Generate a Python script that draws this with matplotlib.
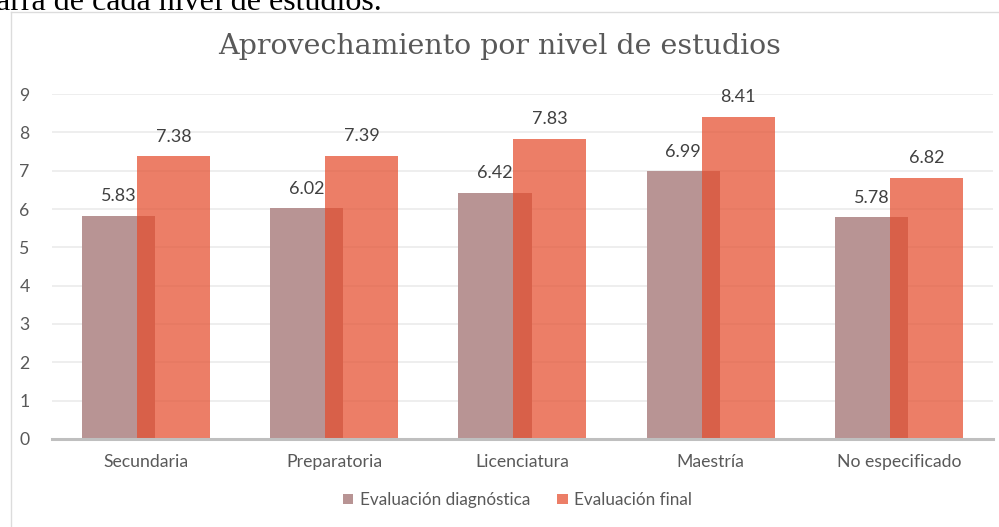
import matplotlib
matplotlib.use("Agg")
import matplotlib.pyplot as plt
from matplotlib.lines import Line2D
import numpy as np

niveles = ["Secundaria", "Preparatoria", "Licenciatura", "Maestría", "No especificado"]
diagnostica = [5.83, 6.02, 6.42, 6.99, 5.78]
final = [7.38, 7.39, 7.83, 8.41, 6.82]
series = ["Evaluación diagnóstica", "Evaluación final"]

plt.rcParams["font.family"] = ["Lato", "DejaVu Sans"]

fig = plt.figure(figsize=(9.99, 5.27), dpi=100)
ax = fig.add_axes([0.052, 0.167, 0.942, 0.6546])

x = np.arange(len(niveles))
w = 0.388
off = 0.146

b1 = ax.bar(x - off, diagnostica, w, color="#b89494", label=series[0], zorder=2)
b2 = ax.bar(x + off, final, w, color="#e54d2d", alpha=0.72, label=series[1], zorder=3)

for rect, v in zip(b1, diagnostica):
    ax.text(rect.get_x() + rect.get_width() / 2, v + 0.3, "%.2f" % v,
            ha="center", va="bottom", fontsize=13, color="#404040")
for rect, v in zip(b2, final):
    ax.text(rect.get_x() + rect.get_width() / 2, v + 0.3, "%.2f" % v,
            ha="center", va="bottom", fontsize=13, color="#404040")

ax.set_xlim(-0.5, len(niveles) - 0.5)
ax.set_ylim(0, 9)
ax.set_yticks(range(0, 10))
ax.set_xticks(x)
ax.set_xticklabels(niveles)
ax.tick_params(axis="both", length=0, labelsize=12.7, labelcolor="#595959")
ax.tick_params(axis="y", pad=16)
ax.tick_params(axis="x", pad=11)
ax.yaxis.grid(True, color="#ebebeb", linewidth=1.2, zorder=0)
ax.set_axisbelow(True)
for s in ["top", "right", "left"]:
    ax.spines[s].set_visible(False)
ax.spines["bottom"].set_color("#bfbfbf")
ax.spines["bottom"].set_linewidth(2.2)
ax.spines["bottom"].set_zorder(4)

fig.text(0.5, 1 - 47 / 527, "Aprovechamiento por nivel de estudios",
         ha="center", va="center", fontsize=20.5, color="#595959",
         family=["DejaVu Serif"])

leg = fig.legend(loc="center", bbox_to_anchor=(0.518, 1 - 500 / 527), ncol=2,
                 frameon=False, fontsize=12.3, handlelength=0.6, handleheight=0.6,
                 handletextpad=0.4, columnspacing=1.6)
for t in leg.get_texts():
    t.set_color("#595959")

# marco del grafico
fig.add_artist(Line2D([11 / 999, 11 / 999], [0, 1 - 12 / 527], color="#dcdcdc", linewidth=1.0))
fig.add_artist(Line2D([11 / 999, 1], [1 - 12 / 527, 1 - 12 / 527], color="#dcdcdc", linewidth=1.0))

# texto del documento recortado arriba
fig.text(-0.004, 1 - 10 / 527, "arra de cada nivel de estudios.", ha="left", va="baseline",
         fontsize=23, color="black", family=["Liberation Serif", "DejaVu Serif"])

fig.savefig("out.png", dpi=100)
